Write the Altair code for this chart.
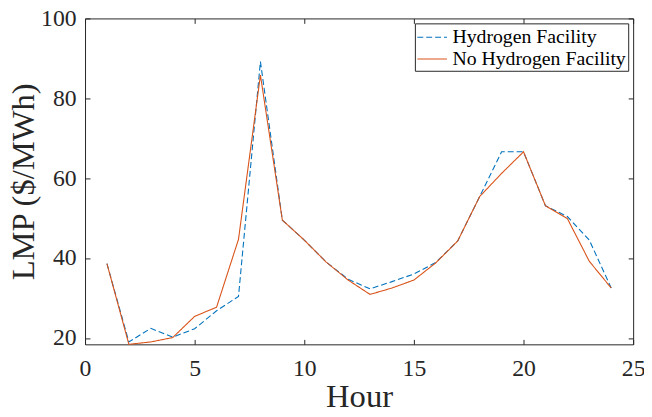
import altair as alt
import pandas as pd

hours = list(range(1, 25))
hydrogen = [38.6, 19.0, 22.4, 20.2, 22.3, 26.8, 30.4, 89.2, 49.5, 44.5, 39.0, 34.7,
            32.3, 34.1, 36.0, 38.9, 44.3, 55.4, 66.6, 66.6, 53.1, 50.4, 44.5, 32.5]
no_hydrogen = [38.6, 18.4, 19.0, 20.1, 25.4, 27.7, 44.7, 85.8, 49.5, 44.5, 39.0, 34.5,
               30.9, 32.5, 34.5, 38.8, 44.3, 55.4, 61.2, 66.6, 53.1, 49.9, 39.2, 32.5]
series_names = ["Hydrogen Facility", "No Hydrogen Facility"]
x_ticks = [0, 5, 10, 15, 20, 25]
y_ticks = [20, 40, 60, 80, 100]

rows = []
for h, a, b in zip(hours, hydrogen, no_hydrogen):
    rows.append({"Hour": h, "LMP": a, "Series": series_names[0]})
    rows.append({"Hour": h, "LMP": b, "Series": series_names[1]})
df = pd.DataFrame(rows)

FONT = "Liberation Serif"
AX = "#262626"
xscale = alt.Scale(domain=[0, 25], nice=False)
yscale = alt.Scale(domain=[18.4, 100], nice=False, zero=False)

main_x = alt.Axis(values=x_ticks, title="Hour", ticks=False, domain=False, grid=False,
                  labelFont=FONT, labelFontSize=24, labelColor=AX, labelPadding=13,
                  labelFlush=False, titleFont=FONT, titleFontSize=33, titleFontWeight="normal",
                  titleColor=AX, titlePadding=0)
main_y = alt.Axis(values=y_ticks, title="LMP ($/MWh)", ticks=False, domain=False, grid=False,
                  labelFont=FONT, labelFontSize=24, labelColor=AX, labelPadding=9,
                  labelFlush=False, titleFont=FONT, titleFontSize=33, titleFontWeight="normal",
                  titleColor=AX, titlePadding=0)


def tick_axis(orient, values):
    return alt.Axis(orient=orient, values=values, title=None, labels=False, domain=False,
                    grid=False, ticks=True, tickSize=5, tickColor=AX, tickWidth=1, offset=-5)


legend = alt.Legend(title=None, labelFont=FONT, labelFontSize=20, labelColor="black",
                    labelLimit=0, symbolType="M-1.364,0H1.364", symbolSize=484,
                    symbolStrokeWidth=1.1, symbolOffset=3.5, labelOffset=8.5)

lines = alt.Chart(df).mark_line(strokeWidth=1.1).encode(
    x=alt.X("Hour:Q", scale=xscale, axis=main_x),
    y=alt.Y("LMP:Q", scale=yscale, axis=main_y),
    color=alt.Color("Series:N", scale=alt.Scale(domain=series_names, range=["#0072BD", "#D95319"]),
                    legend=legend),
    strokeDash=alt.StrokeDash("Series:N", scale=alt.Scale(domain=series_names, range=[[6, 3], [1, 0]]),
                              legend=legend),
)

ticks_bl = alt.Chart(df).mark_line(opacity=0).encode(
    x=alt.X("Hour:Q", scale=xscale, axis=tick_axis("bottom", x_ticks)),
    y=alt.Y("LMP:Q", scale=yscale, axis=tick_axis("left", y_ticks)),
    detail="Series:N",
)
ticks_tr = alt.Chart(df).mark_line(opacity=0).encode(
    x=alt.X("Hour:Q", scale=xscale, axis=tick_axis("top", x_ticks)),
    y=alt.Y("LMP:Q", scale=yscale, axis=tick_axis("right", y_ticks)),
    detail="Series:N",
)

chart = alt.layer(lines, ticks_bl, ticks_tr).resolve_axis(
    x="independent", y="independent"
).properties(
    width=555, height=330,
    autosize=alt.AutoSizeParams(type="none"),
    padding={"left": 78, "top": 8, "right": 11, "bottom": 70},
    background="white",
).configure_view(
    stroke=AX, strokeWidth=1
).configure_legend(
    orient="none", legendX=334, legendY=5,
    fillColor="white", strokeColor=AX, padding=2, cornerRadius=0, rowPadding=0,
)

chart.save("out.html", embed_options={"renderer": "svg", "actions": False})
